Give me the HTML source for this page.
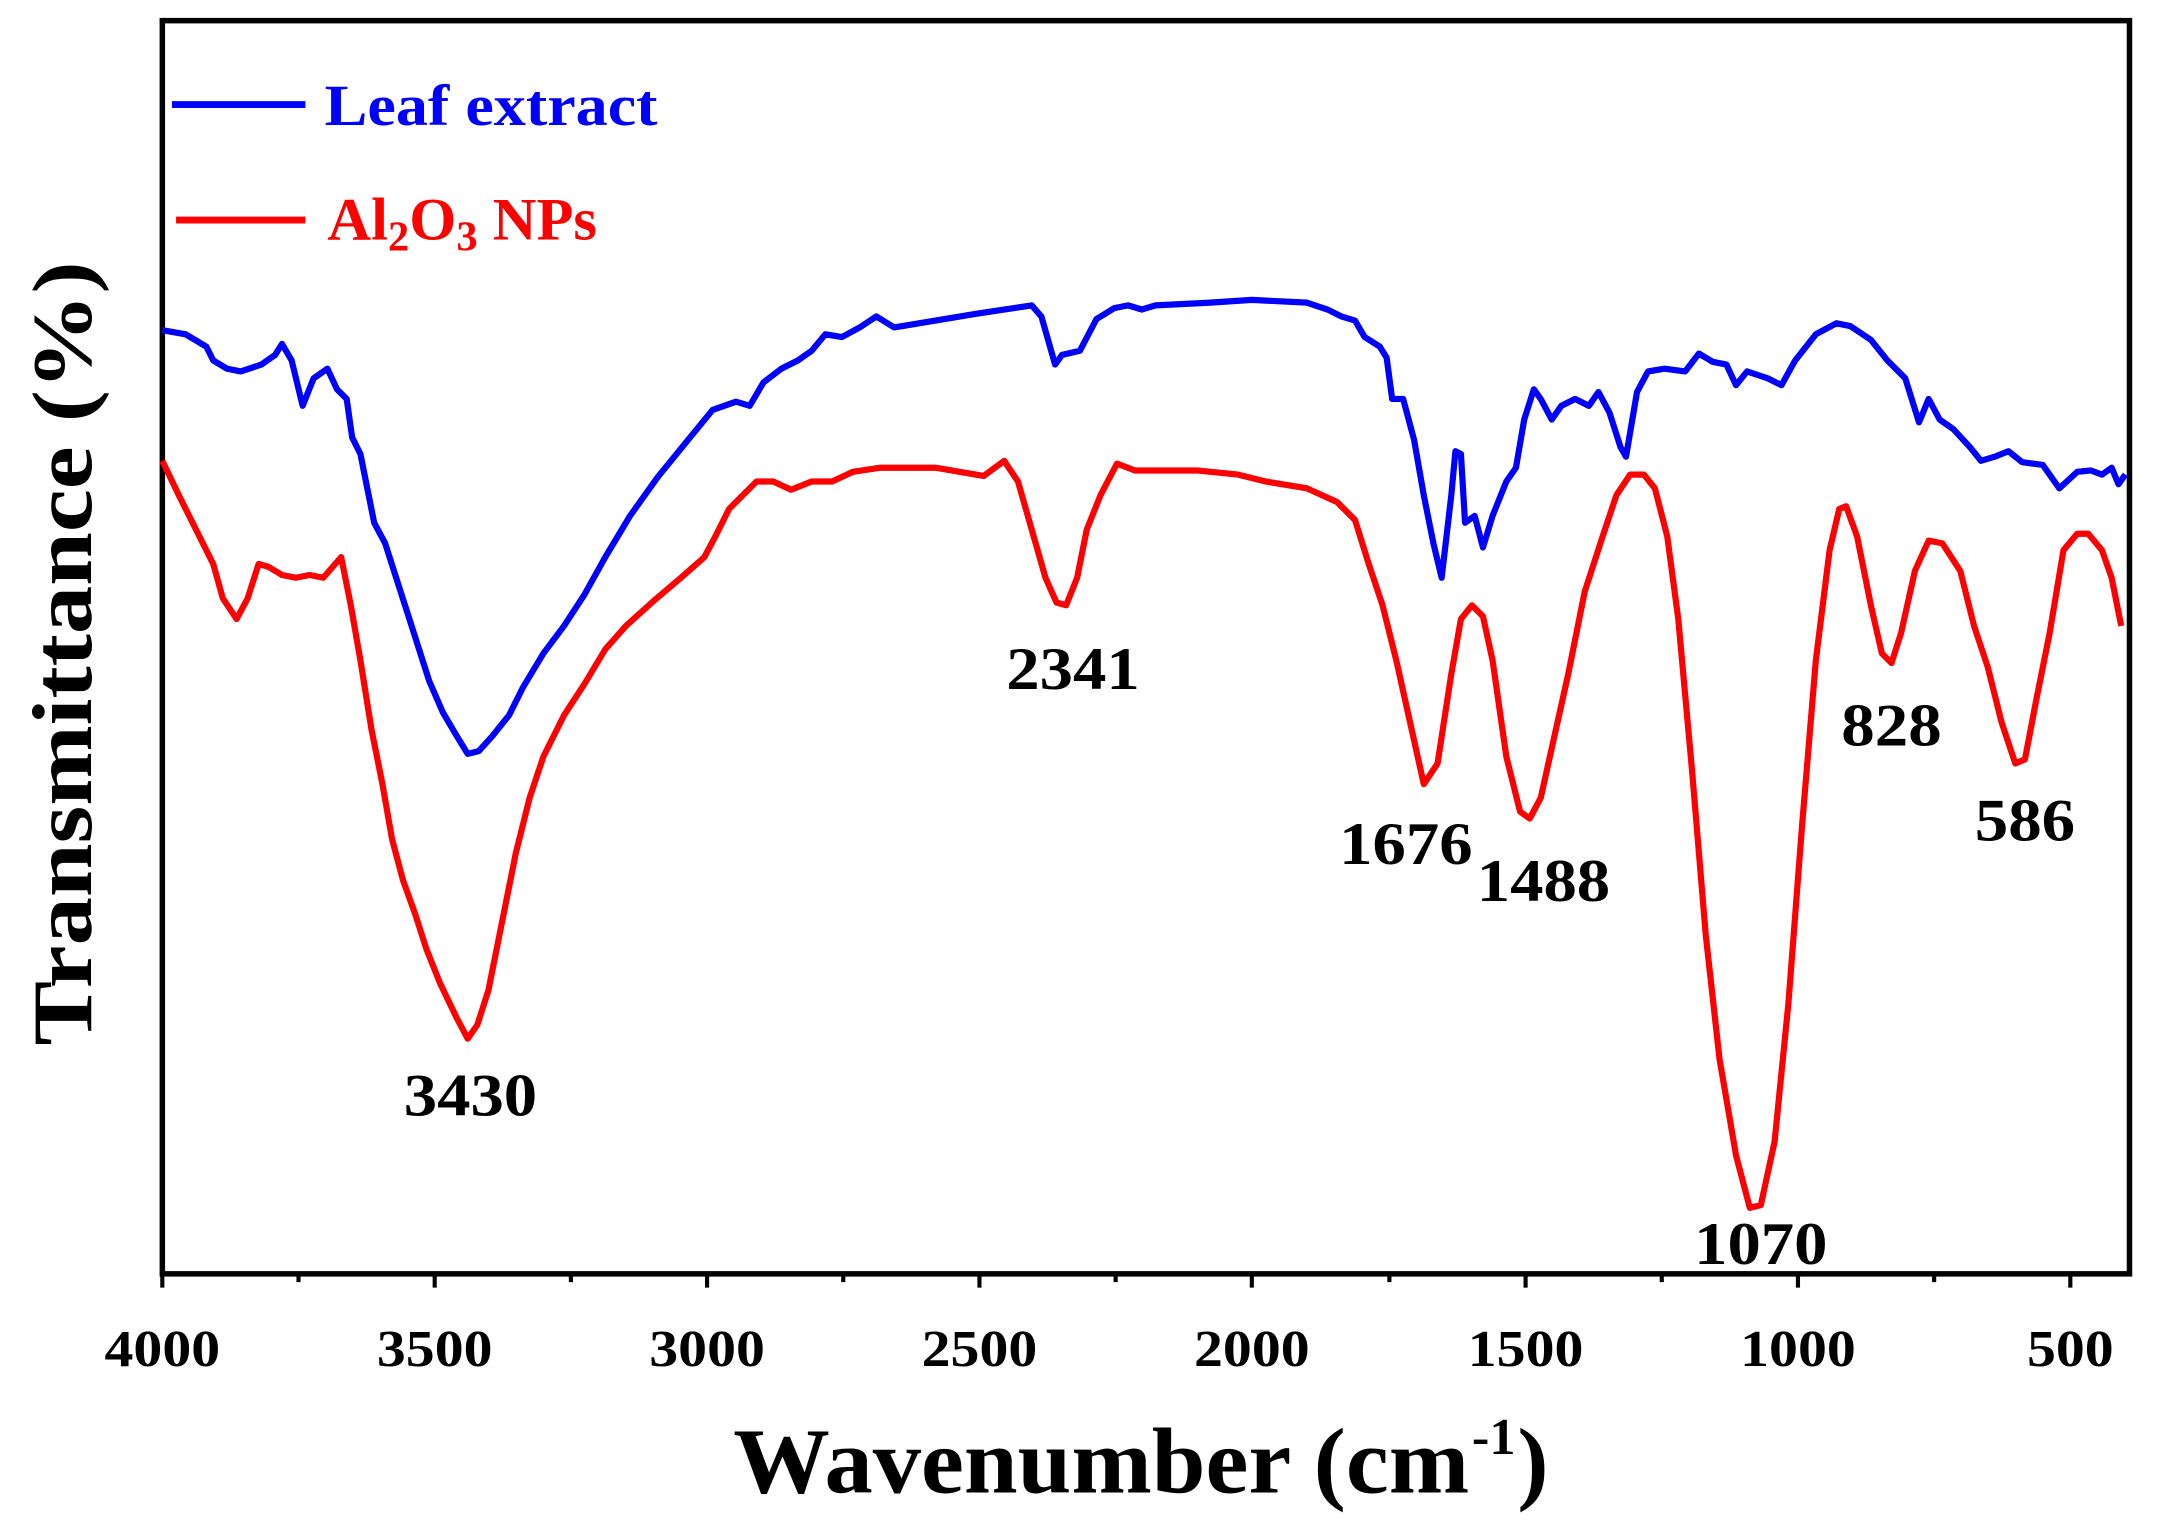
<!DOCTYPE html>
<html><head><meta charset="utf-8"><style>html,body{margin:0;padding:0;background:#fff}svg{display:block}text{font-family:"Liberation Serif",serif;font-weight:bold}</style></head><body>
<svg width="2157" height="1530" viewBox="0 0 1568 1112.2" xmlns="http://www.w3.org/2000/svg">
<rect x="118" y="15" width="1430" height="911" fill="none" stroke="#000" stroke-width="4"/>
<g stroke="#000" stroke-width="3">
<path d="M118 926v10M316 926v10M514 926v10M712 926v10M910 926v10M1109 926v10M1307 926v10M1505 926v10M217 926v6M415 926v6M613 926v6M811 926v6M1010 926v6M1208 926v6M1406 926v6"/>
</g>
<g font-size="38" text-anchor="middle" fill="#000">
<text x="118" y="993" textLength="84" lengthAdjust="spacingAndGlyphs">4000</text><text x="316" y="993" textLength="84" lengthAdjust="spacingAndGlyphs">3500</text><text x="514" y="993" textLength="84" lengthAdjust="spacingAndGlyphs">3000</text><text x="712" y="993" textLength="84" lengthAdjust="spacingAndGlyphs">2500</text><text x="910" y="993" textLength="84" lengthAdjust="spacingAndGlyphs">2000</text><text x="1109" y="993" textLength="84" lengthAdjust="spacingAndGlyphs">1500</text><text x="1307" y="993" textLength="84" lengthAdjust="spacingAndGlyphs">1000</text><text x="1505" y="993" textLength="63" lengthAdjust="spacingAndGlyphs">500</text>
</g>
<text x="533" y="1085" font-size="68" textLength="535" lengthAdjust="spacingAndGlyphs">Wavenumber (cm</text>
<text x="1070" y="1057" font-size="38">-1</text>
<text x="1103" y="1085" font-size="68">)</text>
<text transform="translate(66,475) rotate(-90)" font-size="62" text-anchor="middle" textLength="570" lengthAdjust="spacingAndGlyphs">Transmittance (%)</text>
<line x1="125" y1="76" x2="222" y2="76" stroke="#00f" stroke-width="5"/>
<text x="236" y="91" font-size="42" fill="#00f" textLength="242" lengthAdjust="spacingAndGlyphs">Leaf extract</text>
<line x1="128" y1="160" x2="222" y2="160" stroke="#f00" stroke-width="5"/>
<text x="238" y="174" font-size="44" fill="#f00">Al<tspan dy="8" font-size="31">2</tspan><tspan dy="-8">O</tspan><tspan dy="8" font-size="31">3</tspan><tspan dy="-8"> NPs</tspan></text>
<polyline fill="none" stroke="#00f" stroke-width="4.5" stroke-linejoin="round" points="118,240 135,243 150,252 155,262 165,268 175,270 190,265 200,258 205,250 212,262 220,295 228,275 238,268 245,283 252,290 256,318 262,330 266,350 272,380 280,395 288,420 296,445 304,470 312,495 322,518 332,535 340,548 348,546 358,535 370,520 380,500 395,475 410,455 425,432 440,405 458,375 478,347 500,320 518,298 535,292 545,295 555,278 568,268 580,262 590,255 600,243 612,245 625,238 637,230 650,238 680,233 710,228 750,222 757,230 767,265 772,258 785,255 797,232 810,224 820,222 830,225 840,222 880,220 910,218 950,220 965,225 975,230 985,233 992,245 1003,252 1008,260 1012,290 1020,290 1028,320 1035,360 1042,395 1048,420 1055,360 1058,328 1062,330 1065,380 1072,375 1078,398 1085,375 1095,350 1102,340 1108,305 1115,283 1120,290 1128,305 1135,295 1145,290 1155,295 1162,285 1170,300 1178,325 1182,332 1190,285 1198,270 1210,268 1225,270 1235,257 1245,263 1255,265 1262,280 1270,270 1285,275 1295,280 1305,262 1320,243 1335,235 1345,237 1360,247 1372,262 1385,275 1395,307 1402,290 1410,305 1420,312 1432,325 1440,335 1450,332 1460,328 1470,336 1485,338 1497,355 1510,343 1520,342 1528,345 1535,340 1540,352 1545,345"/>
<polyline fill="none" stroke="#f00" stroke-width="4.5" stroke-linejoin="round" points="118,335 130,360 145,390 155,410 162,435 172,450 180,435 188,410 195,412 205,418 215,420 225,418 235,420 248,405 255,440 262,480 270,530 278,570 285,610 293,640 302,665 310,690 320,715 332,740 340,755 347,745 355,720 365,670 375,620 385,580 395,550 410,520 425,497 440,472 455,455 475,437 495,420 512,405 520,390 530,370 540,360 550,350 562,350 575,356 590,350 605,350 620,343 640,340 680,340 715,346 730,335 740,350 750,385 760,420 768,438 775,440 783,420 790,385 800,360 812,337 825,342 870,342 900,345 920,350 950,355 972,365 985,378 995,410 1005,440 1015,480 1025,525 1035,570 1045,555 1055,490 1062,450 1070,440 1078,448 1085,480 1095,550 1105,590 1112,595 1120,580 1130,535 1140,490 1152,430 1165,390 1175,360 1185,345 1195,345 1203,355 1212,390 1220,450 1230,560 1240,680 1250,770 1262,840 1272,878 1280,876 1290,830 1300,730 1310,600 1320,480 1330,400 1337,370 1342,368 1350,390 1360,440 1368,475 1375,482 1382,460 1392,415 1402,393 1412,395 1425,415 1435,455 1445,485 1455,525 1465,555 1472,552 1480,510 1490,460 1500,400 1510,388 1518,388 1528,400 1535,420 1542,455"/>
<g font-size="44" text-anchor="middle" fill="#000">
<text x="342" y="811" textLength="97" lengthAdjust="spacingAndGlyphs">3430</text><text x="780" y="501" textLength="97" lengthAdjust="spacingAndGlyphs">2341</text><text x="1022" y="628" textLength="97" lengthAdjust="spacingAndGlyphs">1676</text><text x="1122" y="655" textLength="97" lengthAdjust="spacingAndGlyphs">1488</text><text x="1280" y="919" textLength="97" lengthAdjust="spacingAndGlyphs">1070</text><text x="1375" y="542" textLength="73" lengthAdjust="spacingAndGlyphs">828</text><text x="1472" y="611" textLength="73" lengthAdjust="spacingAndGlyphs">586</text>
</g>
</svg>
</body></html>
